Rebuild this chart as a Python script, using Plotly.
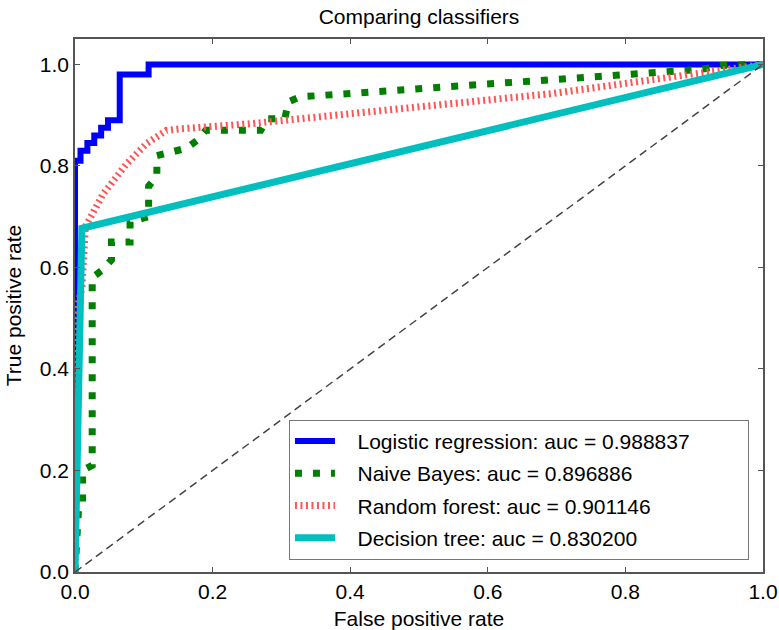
import plotly.graph_objects as go

# ROC curves for four classifiers
lr_fpr = [0, 0, 0.008, 0.008, 0.018, 0.018, 0.028, 0.028, 0.038, 0.038, 0.048, 0.048,
          0.065, 0.065, 0.107, 0.107, 1.0]
lr_tpr = [0, 0.81, 0.81, 0.83, 0.83, 0.845, 0.845, 0.86, 0.86, 0.875, 0.875, 0.89,
          0.89, 0.98, 0.98, 1.0, 1.0]

nb_fpr = [0, 0.005, 0.011, 0.011, 0.025, 0.025, 0.04, 0.053, 0.053, 0.08, 0.08, 0.1,
          0.107, 0.107, 0.119, 0.119, 0.138, 0.162, 0.177, 0.19, 0.27, 0.28, 0.305,
          0.31, 0.327, 0.68, 0.91, 0.94, 1.0]
nb_tpr = [0, 0.12, 0.13, 0.2, 0.21, 0.58, 0.595, 0.615, 0.65, 0.65, 0.69, 0.697,
          0.7, 0.76, 0.78, 0.82, 0.827, 0.835, 0.85, 0.87, 0.87, 0.893, 0.893,
          0.926, 0.936, 0.97, 0.99, 0.998, 1.0]

rf_fpr = [0, 0, 0.01, 0.015, 0.041, 0.075, 0.104, 0.133, 0.153, 0.254, 0.69, 0.94, 1.0]
rf_tpr = [0, 0.5, 0.56, 0.68, 0.745, 0.804, 0.844, 0.87, 0.873, 0.883, 0.942, 0.99, 1.0]

dt_fpr = [0, 0.01, 1.0]
dt_tpr = [0, 0.677, 1.0]

chance = [0, 1]

names = ["Logistic regression: auc = 0.988837",
         "Naive Bayes: auc = 0.896886",
         "Random forest: auc = 0.901146",
         "Decision tree: auc = 0.830200"]

FS = 21
NB = "\u00a0"


def legend_label(text):
    # a little padding so the legend box has some breathing room
    return NB * 3 + text + NB * 9


fig = go.Figure()
fig.add_trace(go.Scatter(x=lr_fpr, y=lr_tpr, mode="lines", name=legend_label(names[0]),
                         legendgroup="lr",
                         line=dict(color="#0000ff", width=6)))
fig.add_trace(go.Scatter(x=nb_fpr, y=nb_tpr, mode="lines", name=legend_label(names[1]),
                         legendgroup="nb",
                         line=dict(color="#007f00", width=7, dash="7px,11px")))
fig.add_trace(go.Scatter(x=rf_fpr, y=rf_tpr, mode="lines", name=legend_label(names[2]),
                         legendgroup="rf",
                         line=dict(color="#ff5555", width=7, dash="2px,3.5px")))
fig.add_trace(go.Scatter(x=dt_fpr, y=dt_tpr, mode="lines", name=legend_label(names[3]),
                         legendgroup="dt",
                         line=dict(color="#00bfbf", width=7)))
fig.add_trace(go.Scatter(x=chance, y=chance, mode="lines", showlegend=False,
                         line=dict(color="#444444", width=1.5, dash="8px,5px")))

axis_common = dict(showline=True, linecolor="#555555", linewidth=1.5, mirror="ticks",
                   ticks="inside", ticklen=5, tickcolor="#555555", showgrid=False,
                   zeroline=False, tickfont=dict(size=FS, color="black"),
                   tickformat=".1f", dtick=0.2, automargin=False)

fig.update_layout(
    width=779, height=630,
    margin=dict(l=75, r=16, t=39, b=58),
    paper_bgcolor="white", plot_bgcolor="white",
    font=dict(family="Liberation Sans, Arial, sans-serif", color="black"),
    title=dict(text="Comparing classifiers", x=(75 + 763) / 2 / 779, xanchor="center",
               y=1 - 17 / 630, yanchor="middle", font=dict(size=FS)),
    xaxis=dict(range=[0, 1], tick0=0,
               title=dict(text="False positive rate", font=dict(size=FS), standoff=10),
               **axis_common),
    yaxis=dict(range=[0, 1.05], tick0=0,
               title=dict(text="True positive rate", font=dict(size=FS), standoff=12),
               **axis_common),
    legend=dict(x=0.311, y=0.023, xanchor="left", yanchor="bottom",
                bgcolor="white", bordercolor="#777777", borderwidth=1,
                font=dict(size=FS), itemwidth=40, tracegroupgap=2),
)

fig.write_html("out.html")
